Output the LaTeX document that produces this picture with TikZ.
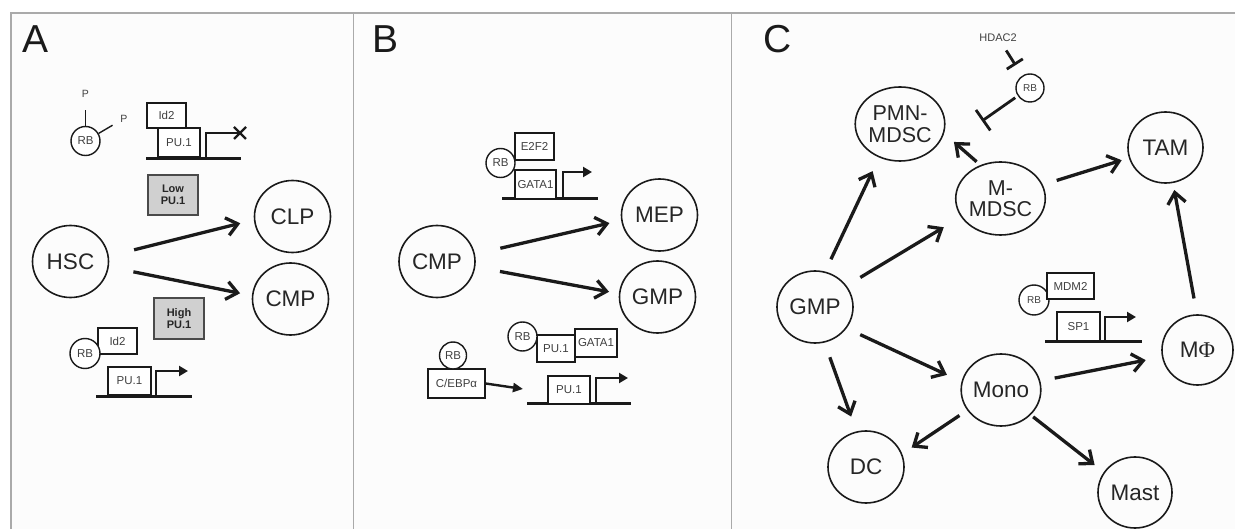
\documentclass[tikz,border=0pt]{standalone}
\usepackage{fontspec}
\setmainfont{Liberation Sans}
\newfontfamily\phifont{Liberation Serif}
\usetikzlibrary{arrows.meta,shapes.geometric}
\definecolor{ink}{HTML}{1A1A1A}
\definecolor{celltext}{HTML}{262626}
\definecolor{smalltext}{HTML}{404040}
\definecolor{framegray}{HTML}{AAAAAA}
\definecolor{levelgray}{HTML}{D0D0D0}
\definecolor{boxedge}{HTML}{4A4A4A}
\definecolor{paper}{HTML}{FCFCFC}
\begin{document}
\begin{tikzpicture}[x=1pt,y=-1pt,
  cell/.style={ellipse, draw=ink, line width=1.6pt, minimum width=76pt, minimum height=72pt,
    inner sep=0pt, text=celltext, align=center, font=\fontsize{22.5}{19.5}\selectfont},
  twoline/.style={font=\fontsize{21.5}{21.5}\selectfont},
  rbcirc/.style={circle, draw=ink, line width=1.4pt, inner sep=0pt, fill=white, text=smalltext,
    font=\fontsize{11.5}{12}\selectfont},
  genebox/.style={rectangle, draw=ink, line width=1.4pt, inner sep=0pt, fill=white, text=smalltext,
    font=\fontsize{11.5}{12}\selectfont},
  level/.style={rectangle, draw=boxedge, line width=1.6pt, fill=levelgray, inner sep=0pt,
    text=celltext, align=center, minimum width=50pt, font=\bfseries\fontsize{11}{12.5}\selectfont},
  panel/.style={anchor=north west, inner sep=0pt, text=ink, font=\fontsize{39}{39}\selectfont},
  ptag/.style={inner sep=0pt, text=smalltext, font=\fontsize{10.5}{10}\selectfont},
  flow/.style={draw=ink, line width=3.3pt, -{Straight Barb[length=11pt,width=18pt]}},
  dna/.style={draw=ink, line width=3pt},
  tss/.style={draw=ink, line width=2.8pt, -{Triangle[length=9pt,width=10pt]}},
  push/.style={draw=ink, line width=2.4pt, -{Triangle[length=10pt,width=9pt]}},
  block/.style={draw=ink, line width=2.8pt},
  thin/.style={draw=ink, line width=1.4pt}]

\useasboundingbox (0,0) rectangle (1235,529);
\fill[white] (0,0) rectangle (1235,529);
\fill[paper] (11,13) rectangle (1235,529);

% frame and panel dividers
\draw[framegray, line width=2pt] (11,529) -- (11,13) -- (1235,13);
\draw[framegray, line width=1pt] (353.5,13) -- (353.5,529);
\draw[framegray, line width=1pt] (731,13) -- (731,529);

% ---------------- panel A ----------------
\node[panel] (labA) at (22,25) {A};

% phosphorylated RB
\node[rbcirc, minimum size=29pt] (rbA1) at (85.5,141) {RB};
\node[ptag] (pA1) at (85.5,93.5) {P};
\node[ptag] (pA2) at (124,118.5) {P};
\draw[thin, shorten >=12.5pt] (rbA1.north) -- (pA1);
\draw[thin, shorten >=9pt] (rbA1.30) -- (pA2);

% repressed PU.1 locus
\draw[dna] (146,159) -- (241,159);
\node[genebox, minimum width=42pt, minimum height=29pt] (puA1) at (179,142.5) {PU.1};
\node[genebox, minimum width=39pt, minimum height=25pt] (idA1) at (166.5,115.5) {Id2};
\draw[dna, line width=2.8pt] (206,159) -- (206,133) -- (240,133);
\draw[ink, line width=2.4pt] (234,127) -- (246,139) (234,139) -- (246,127);

\node[level, minimum height=40pt] (lowA) at (173,195) {Low\\PU.1};
\node[level, minimum height=41pt] (highA) at (179,318.5) {High\\PU.1};

\node[cell] (hsc) at (70.5,261.5) {HSC};
\node[cell] (clpA) at (292.5,216.5) {CLP};
\node[cell] (cmpA) at (290.5,299) {CMP};
\draw[flow, shorten <=26pt, shorten >=14pt] (hsc.8.5) -- (clpA.185);
\draw[flow, shorten <=25pt, shorten >=12pt] (hsc.-8.6) -- (cmpA.175.4);

% active PU.1 locus
\draw[dna] (96,397) -- (192,397);
\node[genebox, minimum width=43pt, minimum height=28pt] (puA2) at (129.5,381) {PU.1};
\node[genebox, minimum width=39pt, minimum height=26pt] (idA2) at (117.5,341) {Id2};
\node[rbcirc, minimum size=30pt] (rbA2) at (85,353.5) {RB};
\draw[tss] (156,397) -- (156,371) -- (188,371);

% ---------------- panel B ----------------
\node[panel] (labB) at (372,25) {B};

% GATA1 locus
\draw[dna] (502,199) -- (598,199);
\node[genebox, minimum width=41pt, minimum height=29pt] (gataB1) at (535.5,184.5) {GATA1};
\node[genebox, minimum width=39pt, minimum height=27pt] (e2f2) at (534.5,146.5) {E2F2};
\node[rbcirc, minimum size=29pt] (rbB1) at (500.5,163) {RB};
\draw[tss] (563,199) -- (563,172) -- (592,172);

\node[cell] (cmpB) at (437,261.5) {CMP};
\node[cell] (mep) at (659.5,215) {MEP};
\node[cell] (gmpB) at (657.5,297) {GMP};
\draw[flow, shorten <=26pt, shorten >=12pt] (cmpB.11.2) -- (mep.188);
\draw[flow, shorten <=25pt, shorten >=10pt] (cmpB.-8.6) -- (gmpB.175);

% RB with PU.1 and GATA1
\node[genebox, minimum width=38pt, minimum height=27pt] (puB1) at (556,348.5) {PU.1};
\node[genebox, minimum width=42pt, minimum height=28pt] (gataB2) at (596,343) {GATA1};
\node[rbcirc, minimum size=29pt] (rbB2) at (522.5,336.5) {RB};

% RB with C/EBPalpha driving PU.1
\node[genebox, minimum width=57pt, minimum height=29pt] (cebp) at (456.5,383.5) {C/EBPα};
\node[rbcirc, minimum size=27pt] (rbB3) at (453,355.5) {RB};
\coordinate (puB2in) at (523,389);
\draw[push] (cebp.east) -- (puB2in);
\draw[dna] (527,404) -- (631,404);
\node[genebox, minimum width=42pt, minimum height=28pt] (puB2) at (569,390) {PU.1};
\draw[tss] (596,404) -- (596,378) -- (628,378);

% ---------------- panel C ----------------
\node[panel] (labC) at (763,25) {C};

\node[inner sep=0pt, text=smalltext, font=\fontsize{11}{12}\selectfont] (hdac) at (998,37.5) {HDAC2};
\node[rbcirc, minimum size=28pt, font=\fontsize{10}{11}\selectfont] (rbC1) at (1030,88) {RB};

\node[cell, twoline, minimum height=74pt] (pmn) at (900,124) {PMN-\\MDSC};
\node[cell, twoline, minimum height=73pt] (mmdsc) at (1000.5,198.5) {M-\\MDSC};
\node[cell, minimum width=75pt, minimum height=71pt] (tam) at (1165.5,147.5) {TAM};
\node[cell] (gmpC) at (815,307) {GMP};
\node[cell] (mono) at (1001,390) {Mono};
\node[cell, minimum width=71pt, minimum height=70pt] (mphi) at (1197.5,350) {M{\phifont Φ}};
\node[cell] (dc) at (866,467) {DC};
\node[cell, minimum width=74pt, minimum height=71pt] (mast) at (1135,492.5) {Mast};

% inhibition of RB by HDAC2, and of the PMN-MDSC route by RB
\draw[block, -{Bar[width=19pt]}, shorten <=15.3pt, shorten >=27pt] (hdac.center) -- (rbC1.center);
\coordinate (pmnstop) at (982,121);
\draw[block, -{Bar[width=25pt]}, shorten <=3pt] (rbC1.213.7) -- (pmnstop);

\draw[flow, shorten <=13.5pt, shorten >=15pt] (gmpC.74.8) -- (pmn.238.5);
\draw[flow, shorten <=16pt, shorten >=20pt] (gmpC.34.3) -- (mmdsc.205);
\draw[flow, shorten <=5pt, shorten >=13pt] (mmdsc.121.2) -- (pmn.-12.4);
\draw[flow, shorten <=14.5pt, shorten >=7.5pt] (mmdsc.18.4) -- (tam.196.8);
\draw[flow, shorten <=16pt, shorten >=7pt] (mphi.91) -- (tam.282.6);
\draw[flow, shorten <=15pt, shorten >=16pt] (gmpC.-34.9) -- (mono.168.3);
\draw[flow, shorten <=14.6pt, shorten >=16.5pt] (mono.13.2) -- (mphi.191.2);
\draw[flow, shorten <=15.5pt, shorten >=15.7pt] (gmpC.-75.4) -- (dc.105.6);
\draw[flow, shorten <=9.3pt, shorten >=11.3pt] (mono.211) -- (dc.20.3);
\draw[flow, shorten <=3pt, shorten >=11.5pt] (mono.-40.9) -- (mast.147.6);

% SP1 locus with RB and MDM2
\draw[dna] (1045,342) -- (1142,342);
\node[genebox, minimum width=43pt, minimum height=29pt] (sp1) at (1078.5,326.5) {SP1};
\node[rbcirc, minimum size=30pt, font=\fontsize{10}{11}\selectfont] (rbC2) at (1034,300) {RB};
\node[genebox, minimum width=47pt, minimum height=26pt] (mdm2) at (1070.5,286) {MDM2};
\draw[tss] (1105,342) -- (1105,317) -- (1136,317);

\end{tikzpicture}
\end{document}
